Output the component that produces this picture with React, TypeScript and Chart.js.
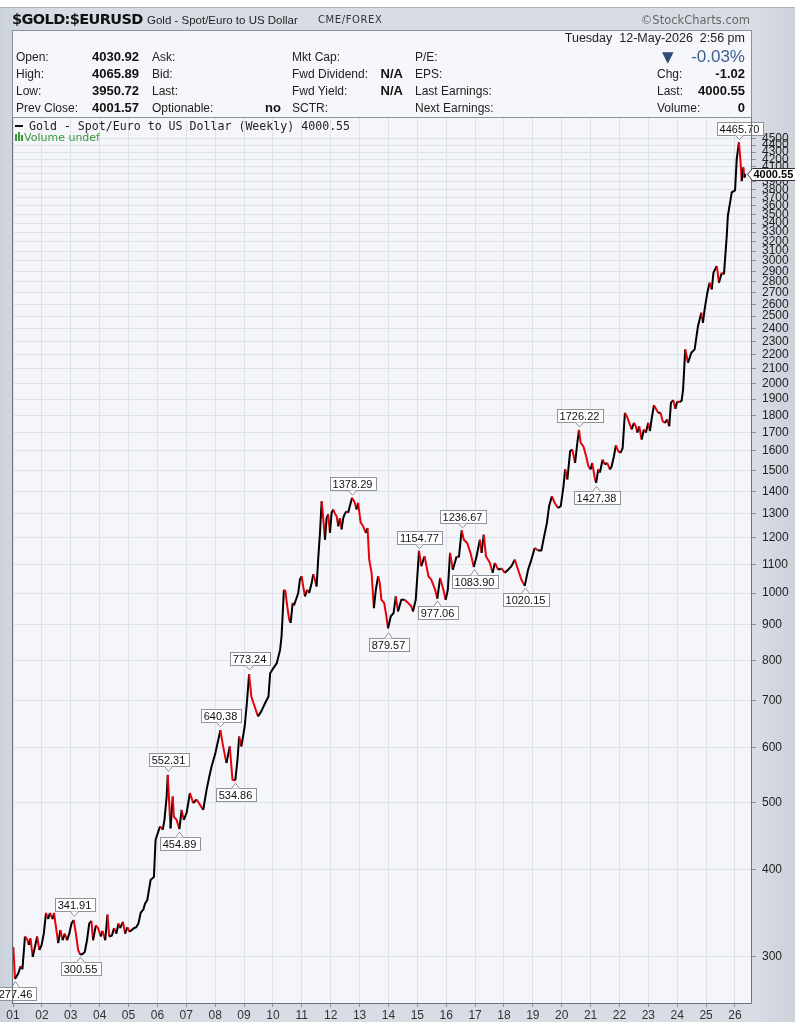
import React, { useEffect, useRef } from "react";
import { Chart, registerables } from "chart.js";
Chart.register(...registerables);

const dates: string[] = [
  "2001-01-05","2001-01-26","2001-03-08","2001-04-08","2001-04-30","2001-06-01","2001-06-30","2001-07-20","2001-08-10","2001-09-07","2001-10-05","2001-11-02","2001-11-30","2001-12-28",
  "2002-01-25","2002-02-22","2002-03-22","2002-04-12","2002-05-17","2002-06-03","2002-06-28","2002-07-26","2002-08-23","2002-09-20","2002-10-18","2002-11-15","2002-12-13",
  "2003-01-10","2003-02-07","2003-03-07","2003-04-04","2003-05-02","2003-05-30","2003-06-27","2003-07-25","2003-08-22","2003-09-19","2003-10-10","2003-11-14","2003-12-12",
  "2004-01-16","2004-02-06","2004-03-12","2004-04-09","2004-05-01","2004-06-04","2004-07-02","2004-07-30","2004-08-27","2004-09-17","2004-10-22","2004-11-19","2004-12-17",
  "2005-01-14","2005-02-11","2005-03-11","2005-04-08","2005-05-06","2005-06-03","2005-07-08","2005-07-29","2005-08-26","2005-10-07","2005-11-18","2005-12-09",
  "2006-02-03","2006-03-10","2006-03-31","2006-04-28","2006-05-12","2006-06-16","2006-07-14","2006-07-28","2006-09-01","2006-10-06","2006-11-03","2006-12-01",
  "2007-01-05","2007-02-16","2007-03-30","2007-05-11","2007-08-03","2007-09-14","2007-10-19","2007-11-16",
  "2008-01-04","2008-03-07","2008-04-11","2008-05-23","2008-07-04","2008-08-08","2008-09-12","2008-10-10","2008-10-31","2008-11-28",
  "2009-01-09","2009-02-06","2009-03-06","2009-04-03","2009-05-15","2009-06-26","2009-08-07","2009-09-25","2009-11-06","2009-11-27","2009-12-25",
  "2010-02-19","2010-04-02","2010-04-20","2010-05-20","2010-06-08","2010-07-01","2010-07-26","2010-08-13","2010-09-08","2010-09-24","2010-10-19","2010-11-17","2010-12-08","2010-12-30",
  "2011-01-19","2011-02-10","2011-03-10","2011-04-04","2011-05-06","2011-05-26","2011-06-16","2011-07-07","2011-07-28","2011-08-19","2011-09-09","2011-09-29","2011-10-21","2011-11-11","2011-12-01","2011-12-23",
  "2012-01-13","2012-02-03","2012-02-24","2012-03-16","2012-04-06","2012-04-27","2012-05-18","2012-06-08","2012-06-29","2012-07-20","2012-08-10","2012-08-31","2012-09-28","2012-11-02","2012-11-23","2012-12-14",
  "2013-01-14","2013-02-15","2013-03-22","2013-04-12","2013-05-03","2013-06-02","2013-07-01","2013-07-26","2013-08-24","2013-09-13","2013-10-04","2013-11-08","2013-12-06","2013-12-27",
  "2014-01-31","2014-03-07","2014-04-04","2014-05-02","2014-06-13","2014-07-25","2014-09-05","2014-10-17","2014-11-07","2014-12-12",
  "2015-01-23","2015-02-20","2015-04-03","2015-05-22","2015-06-26","2015-08-14","2015-09-11","2015-10-16","2015-11-27","2015-12-25",
  "2016-01-22","2016-02-19","2016-03-25","2016-05-13","2016-06-10","2016-07-15","2016-08-12","2016-09-23","2016-11-04","2016-12-16",
  "2017-01-20","2017-03-03","2017-03-24","2017-04-21","2017-05-19","2017-07-07","2017-08-11","2017-09-08","2017-10-20","2017-12-01",
  "2018-01-12","2018-02-23","2018-04-06","2018-05-18","2018-06-29","2018-08-10","2018-09-21","2018-11-02","2018-12-14",
  "2019-01-25","2019-03-08","2019-04-19","2019-05-24","2019-06-28","2019-07-26","2019-08-30","2019-10-04","2019-11-15","2019-12-20",
  "2020-01-24","2020-02-14","2020-03-13","2020-04-17","2020-05-15","2020-06-19","2020-07-17","2020-08-07","2020-08-28","2020-10-02","2020-11-06","2020-12-04",
  "2021-01-01","2021-01-22","2021-02-26","2021-03-12","2021-04-08","2021-04-29","2021-06-02","2021-07-01","2021-07-30","2021-09-02","2021-09-24","2021-10-23","2021-11-17","2021-12-16",
  "2022-01-15","2022-02-10","2022-03-11","2022-04-09","2022-05-05","2022-06-04","2022-07-03","2022-07-28","2022-08-14","2022-09-08","2022-10-08","2022-11-06","2022-12-01","2022-12-31",
  "2023-01-21","2023-02-11","2023-03-13","2023-04-07","2023-05-06","2023-06-05","2023-07-01","2023-07-30","2023-08-28","2023-09-22","2023-10-14","2023-11-12","2023-12-08",
  "2024-01-01","2024-01-29","2024-02-26","2024-03-15","2024-04-12","2024-05-17","2024-06-28","2024-08-09","2024-09-20","2024-11-01","2024-11-22","2024-12-13",
  "2025-01-17","2025-02-14","2025-03-14","2025-04-04","2025-05-16","2025-06-13","2025-07-18","2025-08-15","2025-09-19","2025-10-03","2025-10-31","2025-11-21",
  "2026-01-02","2026-01-23","2026-02-20","2026-03-13","2026-03-27","2026-04-17","2026-05-01","2026-05-12"
];

const closes: number[] = [
  310,279,284,291,288,321,318,312,319,300,310,321,307,312,
  324,347,340,347,340,347,331,314,328,317,324,317,324,
  335,339,324,307,302,303,305,317,335,338,317,333,330,
  321,327,317,345,321,322,330,324,335,330,337,324,331,
  326,328,330,331,335,347,351,358,362,387,391,442,
  462,457,472,510,548,459,510,477,472,458,488,472,
  483,516,499,505,488,521,545,563,
  589,635,602,570,602,539,538,576,622,602,
  643,695,765,710,687,665,676,695,710,767,776,
  793,829,866,1011,1005,957,916,906,968,960,978,1000,1045,1057,
  1022,989,1011,1000,1034,1064,1045,1022,1123,1220,1355,1281,1193,1281,1297,1220,
  1304,1318,1300,1290,1247,1281,1234,1281,1300,1311,1304,1334,1370,1348,1318,1348,
  1264,1247,1220,1240,1117,1069,951,1011,1057,1034,978,968,926,890,
  926,936,989,941,978,978,968,957,941,978,
  1150,1093,1129,1057,1045,1011,982,1051,1011,978,
  1011,1142,1080,1129,1125,1230,1193,1180,1142,1090,
  1129,1193,1142,1213,1129,1105,1069,1105,1080,1085,
  1069,1080,1093,1117,1080,1045,1024,1080,1117,
  1161,1151,1151,1206,1261,1333,1377,1348,1325,1333,
  1424,1505,1456,1599,1608,1538,1644,1715,1644,1625,1572,1521,
  1505,1538,1456,1440,1505,1490,1555,1530,1538,1505,1520,1572,1630,1599,
  1590,1615,1815,1790,1756,1718,1756,1735,1700,1736,1662,1718,1700,1756,
  1709,1776,1862,1840,1815,1815,1765,1756,1776,1736,1877,1893,1840,
  1885,1880,1890,1958,2239,2142,2214,2239,2418,2528,2445,2556,
  2701,2792,2731,2886,2950,2792,2886,2870,3258,3481,3639,3763,
  3788,4200,4440,4155,3908,4087,3952,4000.55
];

const yTicks: number[] = [
  300,400,500,600,700,800,900,1000,1100,1200,1300,1400,1500,1600,1700,1800,1900,2000,
  2100,2200,2300,2400,2500,2600,2700,2800,2900,3000,3100,3200,3300,3400,3500,3600,3700,3800,3900,4000,
  4100,4200,4300,4400,4500
];
const xTickYears: number[] = [2001,2002,2003,2004,2005,2006,2007,2008,2009,2010,2011,2012,2013,2014,2015,2016,2017,2018,2019,2020,2021,2022,2023,2024,2025,2026];
const xTickLabels: string[] = ["01","02","03","04","05","06","07","08","09","10","11","12","13","14","15","16","17","18","19","20","21","22","23","24","25","26"];

const annDates: string[] = ["2001-01-26","2003-02-07","2003-05-02","2006-05-12","2006-10-06","2008-03-07","2008-09-12","2009-03-06","2012-09-28","2013-12-27","2015-01-23","2015-09-11","2016-07-15","2016-12-16","2018-09-21","2020-08-07","2021-03-12","2026-02-20"];
const annValues: number[] = [277.46,341.91,300.55,552.31,454.89,640.38,534.86,773.24,1378.29,879.57,1154.77,977.06,1236.67,1083.9,1020.15,1726.22,1427.38,4465.7];
const annKinds: string[] = ["low","high","low","high","low","high","low","high","high","low","high","low","high","low","low","high","low","high"];
const lastValue = 4000.55;

function toYear(d: string): number {
  const [y, m, day] = d.split("-").map(Number);
  const s = Date.UTC(y, 0, 1), e = Date.UTC(y + 1, 0, 1);
  return y + (Date.UTC(y, m - 1, day) - s) / (e - s);
}

const FONT = '"Liberation Sans", Arial, sans-serif';

const overlayPlugin = {
  id: "overlay",
  beforeDraw(chart: any) {
    const { ctx, chartArea: a } = chart;
    ctx.save();
    ctx.fillStyle = "#f5f6fa";
    ctx.fillRect(a.left, a.top, a.right - a.left, a.bottom - a.top);
    ctx.restore();
  },
  afterDatasetsDraw(chart: any) {
    const { ctx } = chart;
    const xs = chart.scales.x, ys = chart.scales.y;
    ctx.save();
    ctx.font = "11px " + FONT;
    ctx.textAlign = "center";
    ctx.textBaseline = "middle";
    annDates.forEach((d, i) => {
      const v = annValues[i];
      const px = Math.round(xs.getPixelForValue(toYear(d))) + 0.5;
      const py = ys.getPixelForValue(v);
      const text = v.toFixed(2);
      const w = Math.round(ctx.measureText(text).width + 6);
      const h = 13;
      const high = annKinds[i] === "high";
      const gap = 6;
      const edge = high ? Math.round(py - gap) + 0.5 : Math.round(py + gap) + 0.5;
      const top = high ? edge - h : edge;
      const left = Math.round(px - w / 2) + 0.5;
      ctx.fillStyle = "#ffffff";
      ctx.strokeStyle = "#8e9299";
      ctx.lineWidth = 1;
      ctx.fillRect(left, top, w, h);
      ctx.strokeRect(left, top, w, h);
      ctx.beginPath();
      ctx.moveTo(px - 4, edge);
      ctx.lineTo(px, high ? py - 1 : py + 1);
      ctx.lineTo(px + 4, edge);
      ctx.closePath();
      ctx.fill();
      ctx.beginPath();
      ctx.moveTo(px - 4, edge);
      ctx.lineTo(px, high ? py - 1 : py + 1);
      ctx.lineTo(px + 4, edge);
      ctx.stroke();
      ctx.fillStyle = "#111";
      ctx.fillText(text, px, top + h / 2 + 0.5);
    });
    ctx.restore();
  },
  afterDraw(chart: any) {
    const { ctx, chartArea: a } = chart;
    const ys = chart.scales.y;
    ctx.save();
    ctx.strokeStyle = "#6d737c";
    ctx.lineWidth = 1;
    ctx.beginPath();
    ctx.moveTo(a.left + 0.5, a.top);
    ctx.lineTo(a.left + 0.5, a.bottom + 0.5);
    ctx.lineTo(a.right + 0.5, a.bottom + 0.5);
    ctx.lineTo(a.right + 0.5, a.top);
    ctx.stroke();
    const py = Math.round(ys.getPixelForValue(lastValue)) + 0.5;
    const x0 = a.right - 3.5;
    ctx.fillStyle = "#ffffff";
    ctx.strokeStyle = "#333";
    ctx.beginPath();
    ctx.moveTo(x0, py);
    ctx.lineTo(x0 + 5, py - 6);
    ctx.lineTo(x0 + 60, py - 6);
    ctx.lineTo(x0 + 60, py + 6);
    ctx.lineTo(x0 + 5, py + 6);
    ctx.closePath();
    ctx.fill();
    ctx.stroke();
    ctx.fillStyle = "#000";
    ctx.font = "bold 11px " + FONT;
    ctx.textAlign = "left";
    ctx.textBaseline = "middle";
    ctx.fillText(lastValue.toFixed(2), x0 + 6, py + 0.5);
    ctx.restore();
  },
};

function Txt(props: { x: number; y: number; text: string; right?: boolean; style?: React.CSSProperties }) {
  const { x, y, text, right, style } = props;
  const base: React.CSSProperties = {
    position: "absolute",
    top: y - 8,
    height: 16,
    lineHeight: "16px",
    whiteSpace: "nowrap",
    fontFamily: FONT,
    fontSize: 12,
    color: "#222",
  };
  if (right) base.right = 795 - x;
  else base.left = x;
  return <div style={{ ...base, ...style }}>{text}</div>;
}

export default function App() {
  const ref = useRef<HTMLCanvasElement | null>(null);

  useEffect(() => {
    if (!ref.current) return;
    const pts = dates.map((d, i) => ({ x: toYear(d), y: closes[i] }));
    const chart = new Chart(ref.current, {
      type: "line",
      data: {
        datasets: [
          {
            data: pts,
            borderColor: "#000",
            borderWidth: 2,
            pointRadius: 0,
            tension: 0,
            borderJoinStyle: "round",
            segment: {
              borderColor: (c: any) => (c.p1.parsed.y < c.p0.parsed.y ? "#e8000b" : "#000000"),
            },
          } as any,
        ],
      },
      options: {
        animation: false,
        responsive: false,
        maintainAspectRatio: false,
        layout: { padding: { left: 12, top: 117, right: 0, bottom: 0 } },
        plugins: { legend: { display: false }, tooltip: { enabled: false }, title: { display: false } },
        scales: {
          x: {
            type: "linear",
            position: "bottom",
            min: 2000.965,
            max: 2026.555,
            afterBuildTicks: (s: any) => {
              s.ticks = xTickYears.map((v) => ({ value: v }));
            },
            afterFit: (s: any) => {
              s.height = 26;
            },
            ticks: {
              autoSkip: false,
              maxRotation: 0,
              padding: 1,
              color: "#333",
              font: { family: FONT, size: 12 },
              callback: (v: any) => {
                const i = xTickYears.indexOf(Number(v));
                return i >= 0 ? xTickLabels[i] : "";
              },
            },
            grid: { color: "#dfe2ea", tickLength: 4, tickColor: "#8a8f98" },
            border: { display: false },
          },
          y: {
            type: "logarithmic",
            position: "right",
            min: 257.6,
            max: 4830,
            afterBuildTicks: (s: any) => {
              s.ticks = yTicks.map((v) => ({ value: v }));
            },
            afterFit: (s: any) => {
              s.width = 44;
            },
            ticks: {
              autoSkip: false,
              padding: 6,
              color: "#222",
              font: { family: FONT, size: 12 },
              callback: (v: any) => String(v),
            },
            grid: { color: "#dfe2ea", tickLength: 5, tickColor: "#8a8f98" },
            border: { display: false },
          },
        },
      } as any,
      plugins: [overlayPlugin],
    });
    return () => chart.destroy();
  }, []);

  const lbl: React.CSSProperties = { fontSize: 12 };
  const val: React.CSSProperties = { fontSize: 13, fontWeight: "bold", color: "#111" };

  return (
    <div style={{ position: "absolute", left: 0, top: 0, width: 795, height: 1029, background: "#ffffff", overflow: "hidden" }}>
      <div style={{ position: "absolute", left: 0, top: 7, width: 795, height: 1015, background: "linear-gradient(to right, #ccd2dc 0px, #d8dce5 40px, #d8dce5 755px, #ccd1da 795px)", borderTop: "1px solid #aeb3bc", boxSizing: "border-box" }} />
      <canvas ref={ref} width={795} height={1029} style={{ position: "absolute", left: 0, top: 0, width: 795, height: 1029 }} />
      <Txt x={12} y={19} text="$GOLD:$EURUSD" style={{ fontFamily: '"DejaVu Sans", sans-serif', fontWeight: "bold", fontSize: 14.5, letterSpacing: -0.6, color: "#111" }} />
      <Txt x={147} y={20} text="Gold - Spot/Euro to US Dollar" style={{ fontSize: 11.5, color: "#222" }} />
      <Txt x={318} y={20} text="CME/FOREX" style={{ fontFamily: '"DejaVu Sans", sans-serif', fontSize: 10, letterSpacing: 0.6, color: "#333" }} />
      <Txt x={750} y={20} right text="©StockCharts.com" style={{ fontFamily: '"DejaVu Sans", sans-serif', fontSize: 11.5, color: "#666" }} />
      <div style={{ position: "absolute", left: 12, top: 30, width: 740, height: 88, background: "#f5f7fa", border: "1px solid #8b9099", boxSizing: "border-box" }} />
      <Txt x={745} y={38} right text="Tuesday  12-May-2026  2:56 pm" style={{ fontSize: 12.5, whiteSpace: "pre" }} />
      <Txt x={16} y={57} text="Open:" style={lbl} />
      <Txt x={16} y={74} text="High:" style={lbl} />
      <Txt x={16} y={91} text="Low:" style={lbl} />
      <Txt x={16} y={108} text="Prev Close:" style={lbl} />
      <Txt x={139} y={57} right text="4030.92" style={val} />
      <Txt x={139} y={74} right text="4065.89" style={val} />
      <Txt x={139} y={91} right text="3950.72" style={val} />
      <Txt x={139} y={108} right text="4001.57" style={val} />
      <Txt x={152} y={57} text="Ask:" style={lbl} />
      <Txt x={152} y={74} text="Bid:" style={lbl} />
      <Txt x={152} y={91} text="Last:" style={lbl} />
      <Txt x={152} y={108} text="Optionable:" style={lbl} />
      <Txt x={281} y={108} right text="no" style={val} />
      <Txt x={292} y={57} text="Mkt Cap:" style={lbl} />
      <Txt x={292} y={74} text="Fwd Dividend:" style={lbl} />
      <Txt x={292} y={91} text="Fwd Yield:" style={lbl} />
      <Txt x={292} y={108} text="SCTR:" style={lbl} />
      <Txt x={403} y={74} right text="N/A" style={val} />
      <Txt x={403} y={91} right text="N/A" style={val} />
      <Txt x={415} y={57} text="P/E:" style={lbl} />
      <Txt x={415} y={74} text="EPS:" style={lbl} />
      <Txt x={415} y={91} text="Last Earnings:" style={lbl} />
      <Txt x={415} y={108} text="Next Earnings:" style={lbl} />
      <Txt x={662} y={57} text="▼" style={{ fontSize: 15, color: "#2d4b79", fontFamily: '"DejaVu Sans", sans-serif' }} />
      <Txt x={745} y={57} right text="-0.03%" style={{ fontSize: 17, color: "#3e5d90" }} />
      <Txt x={657} y={74} text="Chg:" style={lbl} />
      <Txt x={657} y={91} text="Last:" style={lbl} />
      <Txt x={657} y={108} text="Volume:" style={lbl} />
      <Txt x={745} y={74} right text="-1.02" style={val} />
      <Txt x={745} y={91} right text="4000.55" style={val} />
      <Txt x={745} y={108} right text="0" style={val} />
      <div style={{ position: "absolute", left: 15, top: 125, width: 8, height: 2, background: "#111" }} />
      <Txt x={29} y={126} text="Gold - Spot/Euro to US Dollar (Weekly) 4000.55" style={{ fontFamily: '"DejaVu Sans Mono", monospace', fontSize: 11.6, color: "#222" }} />
      <div style={{ position: "absolute", left: 15, top: 134, width: 2, height: 7, background: "#3a9a3a" }} />
      <div style={{ position: "absolute", left: 18, top: 132, width: 2, height: 9, background: "#3a9a3a" }} />
      <div style={{ position: "absolute", left: 21, top: 135, width: 2, height: 6, background: "#3a9a3a" }} />
      <Txt x={24} y={138} text="Volume undef" style={{ fontFamily: '"DejaVu Sans", sans-serif', fontSize: 11, color: "#3a9a3a" }} />
    </div>
  );
}
